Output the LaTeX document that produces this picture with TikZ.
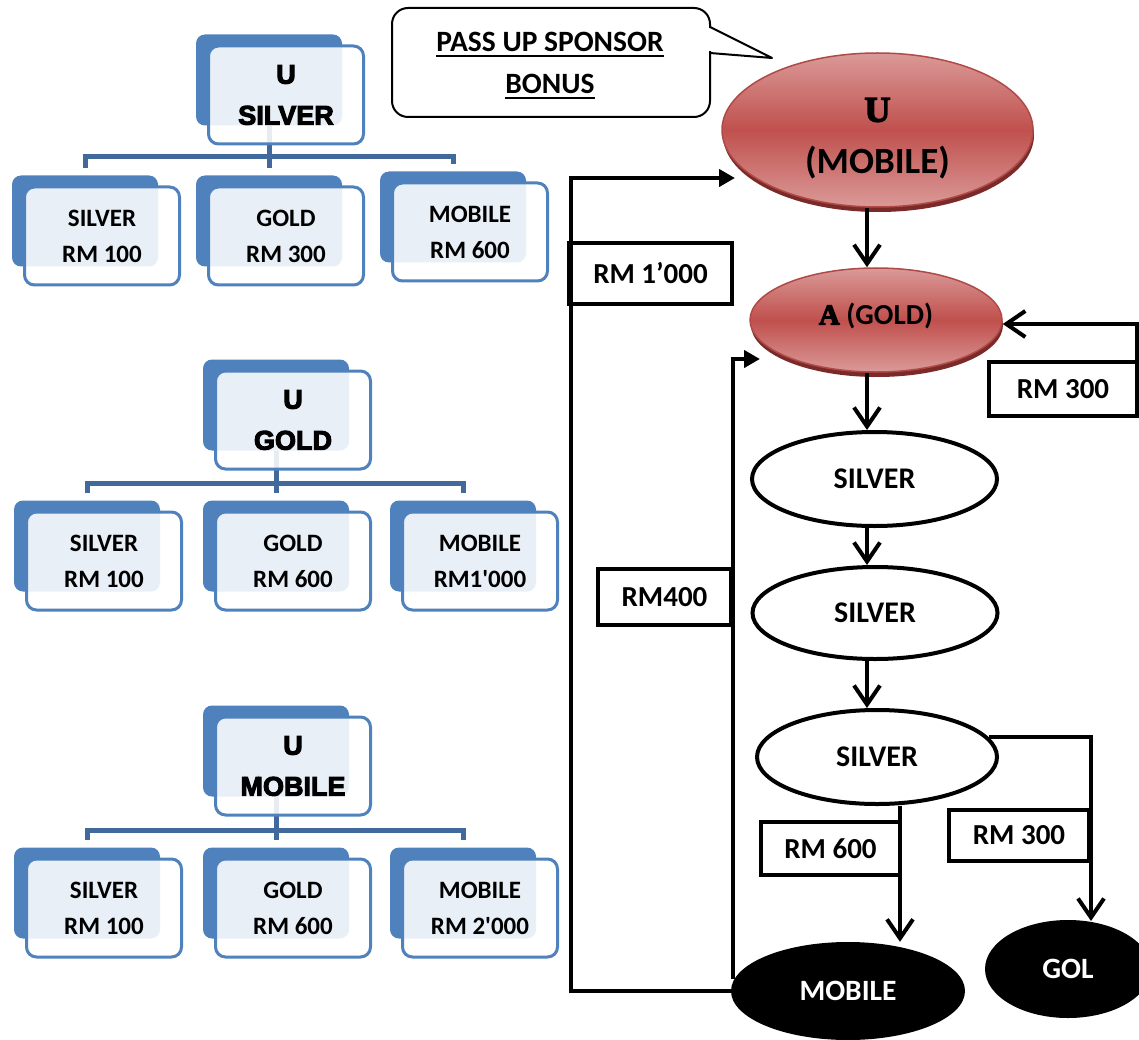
\documentclass[tikz,border=0pt]{standalone}
\usepackage{fontspec}
\setmainfont{Carlito}
\newfontfamily\carlraw{Carlito}[Ligatures=TeXOff]
\newfontfamily\blackfont{Liberation Sans Bold}[FakeBold=4]
\newfontfamily\heavyserif{Liberation Serif Bold}[FakeBold=4]
\usetikzlibrary{shapes.geometric,arrows.meta,shadows,calc}
\definecolor{orgblue}{HTML}{4F81BD}
\definecolor{orglinec}{HTML}{41699C}
\definecolor{redmid}{HTML}{C0504D}
\definecolor{redlight}{HTML}{DA9A98}
\definecolor{redborder}{HTML}{B04A47}
\definecolor{redshadow}{HTML}{7A2B29}
\pgfdeclarelayer{bg}
\pgfsetlayers{bg,main}
\newcommand\myul[1]{\vtop{\hbox{#1}\kern3pt\hrule height 2.2pt}}
\newcommand\apos{{\carlraw\bfseries'}}
\newcommand\orgnode[5]{%
  \node[orgback] (#1b) at (#2-17,#3-15) {};
  \node[#4] (#1) at (#2,#3) {#5};}
\tikzset{
  orgback/.style={rectangle, rounded corners=9pt, fill=orgblue, minimum width=146pt, minimum height=91pt, inner sep=0pt},
  orgfront/.style={rectangle, rounded corners=10pt, draw=orgblue, line width=3pt, fill=white, fill opacity=0.88, text opacity=1, minimum width=155pt, minimum height=98pt, align=center, inner sep=0pt, font=\bfseries\fontsize{25}{36}\selectfont},
  orgroot/.style={orgfront, font=\blackfont\fontsize{27}{41}\selectfont},
  orgline/.style={draw=orglinec, line width=5pt},
  flow/.style={draw=black, line width=4pt},
  barb/.style={-{Straight Barb[length=19pt,width=26pt]}},
  tri/.style={-{Triangle[length=16pt,width=17pt]}},
  lbl/.style={draw, line width=4pt, rectangle, fill=white, inner sep=0pt, outer sep=0pt, font=\bfseries\fontsize{29}{30}\selectfont},
  well/.style={ellipse, draw, line width=4pt, fill=white, inner sep=0pt, font=\bfseries\fontsize{30}{30}\selectfont},
  bell/.style={ellipse, fill=black, text=white, inner sep=0pt, font=\bfseries\fontsize{29.5}{30}\selectfont},
  redell/.style={ellipse, top color=redlight, bottom color=redlight, middle color=redmid, draw=redborder, line width=1.5pt, general shadow={fill=redshadow, shadow xshift=1pt, shadow yshift=-5pt}, inner sep=0pt},
}
\begin{document}
\begin{tikzpicture}[x=1pt,y=-1pt]
\useasboundingbox (0,0) rectangle (1139,1040);

% ---------- org chart 1 ----------
\orgnode{r1}{286}{95}{orgroot}{U\\SILVER}
\orgnode{c11}{102}{236}{orgfront}{SILVER\\RM 100}
\orgnode{c12}{286}{236}{orgfront}{GOLD\\RM 300}
\orgnode{c13}{470}{232}{orgfront}{MOBILE\\RM 600}
% ---------- org chart 2 ----------
\orgnode{r2}{293}{420}{orgroot}{U\\GOLD}
\orgnode{c21}{104}{561}{orgfront}{SILVER\\RM 100}
\orgnode{c22}{293}{561}{orgfront}{GOLD\\RM 600}
\orgnode{c23}{480}{561}{orgfront}{MOBILE\\RM1\apos000}
% ---------- org chart 3 ----------
\orgnode{r3}{293}{766}{orgroot}{U\\MOBILE}
\orgnode{c31}{104}{908}{orgfront}{SILVER\\RM 100}
\orgnode{c32}{293}{908}{orgfront}{GOLD\\RM 600}
\orgnode{c33}{480}{908}{orgfront}{MOBILE\\RM 2\apos000}

\coordinate (bar1) at (0,157);
\coordinate (bar2) at (0,483);
\coordinate (bar3) at (0,830);
\begin{pgfonlayer}{bg}
  \foreach \k in {1,2,3}{
    \draw[orgline] (r\k b.south) -- ([yshift=7pt]c\k2b.north);
    \draw[orgline] ([yshift=7pt]c\k1b.north) |- (c\k3b.north |- bar\k) -- ([yshift=7pt]c\k3b.north);
  }
\end{pgfonlayer}

% ---------- callout ----------
\node[draw, line width=2pt, rounded corners=16pt, minimum width=318pt, minimum height=109pt, outer sep=0pt, inner sep=0pt] (call) at (551,62.5) {};
\fill[white] (708,28.5) rectangle (712,51.5);
\draw[line width=2pt, line join=round] (call.east |- 0,27) -- (772,58) -- (call.east |- 0,53);
\node[font=\bfseries\fontsize{29.5}{42}\selectfont, align=center, inner sep=0pt] (calltxt) at (550,66) {\myul{PASS UP SPONSOR}\\\myul{BONUS}};

% ---------- flow nodes ----------
\node[redell, minimum width=311pt, minimum height=154pt] (U) at (877.5,130) {};
\node[font=\heavyserif\fontsize{36}{36}\selectfont, inner sep=0pt] (Ut1) at ([yshift=20pt]U.center) {U};
\node[font=\bfseries\fontsize{37}{37}\selectfont, inner sep=0pt] (Ut2) at ([yshift=-33pt]U.center) {(MOBILE)};
\node[redell, minimum width=252pt, minimum height=104pt] (A) at (876,320) {};
\node[font=\bfseries\fontsize{29}{29}\selectfont, inner sep=0pt] (At) at ([yshift=4pt]A.center) {{\heavyserif A} (GOLD)};

\node[well, minimum width=245pt, minimum height=94pt] (S1) at (874.5,479) {SILVER};
\node[well, minimum width=245pt, minimum height=92pt] (S2) at (875,613) {SILVER};
\node[well, minimum width=240pt, minimum height=94pt] (S3) at (877,757) {SILVER};
\node[bell, minimum width=234pt, minimum height=98pt] (MOB) at (848,991) {MOBILE};
\node[bell, minimum width=166pt, minimum height=98pt] (GOL) at (1068,969) {GOL};

\node[lbl, minimum width=163pt, minimum height=61pt] (b1000) at (650.5,273.5) {RM 1’000};
\node[lbl, minimum width=133pt, minimum height=56pt] (b400) at (664.5,597) {RM400};
\node[lbl, minimum width=148pt, minimum height=54pt] (b300a) at (1063,389) {RM 300};
\node[lbl, minimum width=139pt, minimum height=53pt] (b600) at (830.5,848.5) {RM 600};
\node[lbl, minimum width=140pt, minimum height=51pt] (b300b) at (1019,835.5) {RM 300};

\coordinate (uin) at (735,178);
\coordinate (ain) at (760,359);
\coordinate (lc) at (571,178);
\coordinate (rc) at (1137,324);
\coordinate (gtop) at (1091,921);

% ---------- flow connectors ----------
\draw[flow,barb] ([xshift=-10.5pt]U.south) -- ([xshift=-9pt]A.north);
\draw[flow,barb] ([xshift=-9pt]A.south) -- ([xshift=-7.5pt]S1.north);
\draw[flow,barb] ([xshift=-7.5pt]S1.south) -- ([xshift=-8pt]S2.north);
\draw[flow,barb] ([xshift=-8pt]S2.south) -- ([xshift=-10pt]S3.north);
\draw[flow,barb] (S3.south -| b600.east) -- (b600.east |- MOB.north);
\draw[flow,barb] (S3.10) -| (gtop);
\draw[flow,tri] (MOB.west) -| (lc) -- (uin);
\draw[flow,tri] ([xshift=2pt,yshift=12pt]MOB.west) |- (ain);
\draw[flow,barb] (b300a.north east) -- (b300a.north east |- rc) -- ([yshift=-4pt]A.east);
\end{tikzpicture}
\end{document}
